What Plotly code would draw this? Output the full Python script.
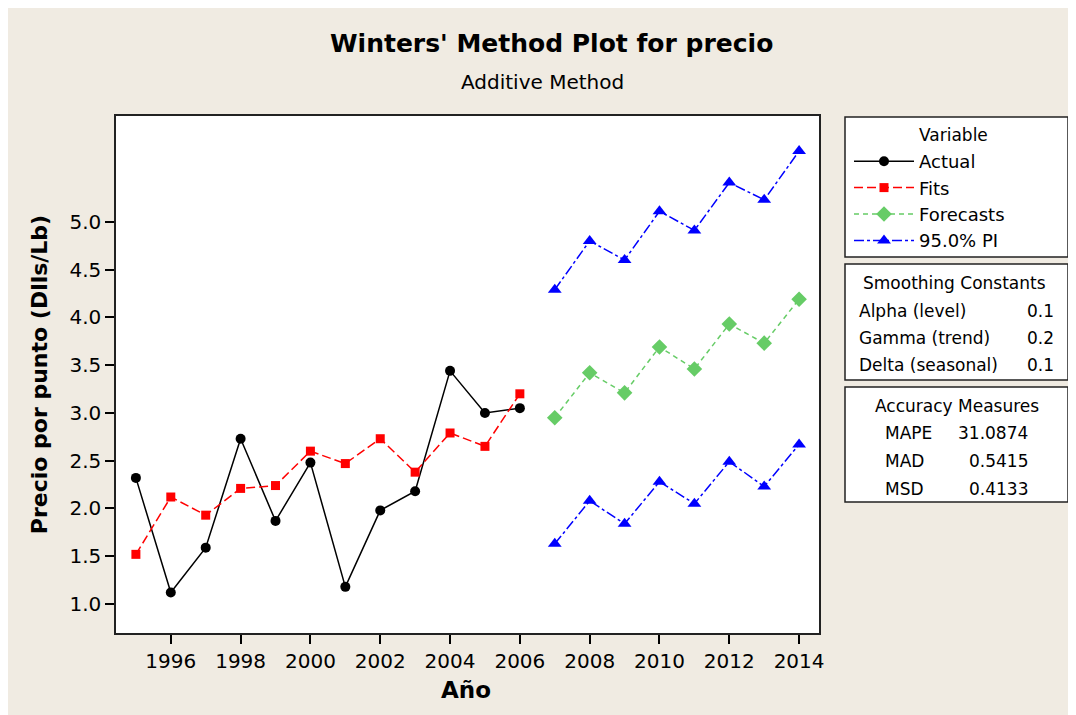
import plotly.graph_objects as go

# ---------------- data ----------------
years_fit = [1995, 1996, 1997, 1998, 1999, 2000, 2001, 2002, 2003, 2004, 2005, 2006]
actual = [2.32, 1.12, 1.59, 2.73, 1.87, 2.48, 1.18, 1.98, 2.18, 3.44, 3.00, 3.05]
fits = [1.52, 2.12, 1.93, 2.21, 2.24, 2.60, 2.47, 2.73, 2.38, 2.79, 2.65, 3.20]

years_fc = [2007, 2008, 2009, 2010, 2011, 2012, 2013, 2014]
forecasts = [2.95, 3.42, 3.21, 3.69, 3.46, 3.93, 3.73, 4.19]
pi_upper = [4.29, 4.80, 4.60, 5.11, 4.91, 5.41, 5.23, 5.74]
pi_lower = [1.63, 2.08, 1.84, 2.28, 2.05, 2.49, 2.23, 2.67]

x_ticks = [1996, 1998, 2000, 2002, 2004, 2006, 2008, 2010, 2012, 2014]
y_ticks = [1.0, 1.5, 2.0, 2.5, 3.0, 3.5, 4.0, 4.5, 5.0]

smoothing_labels = ["Alpha (level)", "Gamma (trend)", "Delta (seasonal)"]
smoothing_values = ["0.1", "0.2", "0.1"]
accuracy_labels = ["MAPE", "MAD", "MSD"]
accuracy_values = ["31.0874", "0.5415", "0.4133"]

# ---------------- layout geometry ----------------
# page body has an 8px margin; coordinates below are in screenshot pixels
OFF = 8
W, H = 1076 - OFF, 715 - OFF
L, R, T, B = 116, 819, 116, 633      # plot frame in screenshot pixels
BG = "#F0EBE2"
FONT = "DejaVu Sans"


def px(x):
    return (x - L) / (R - L)


def py(y):
    return (B - y) / (B - T)


fig = go.Figure()

fig.add_trace(go.Scatter(
    x=years_fit, y=actual, name="Actual", mode="lines+markers",
    line=dict(color="black", width=1.5),
    marker=dict(symbol="circle", size=10, color="black")))
fig.add_trace(go.Scatter(
    x=years_fit, y=fits, name="Fits", mode="lines+markers",
    line=dict(color="#FF0000", width=1.5, dash="9px,4px"),
    marker=dict(symbol="square", size=9, color="#FF0000")))
fig.add_trace(go.Scatter(
    x=years_fc, y=forecasts, name="Forecasts", mode="lines+markers",
    line=dict(color="#66CC66", width=1.5, dash="5px,4px"),
    marker=dict(symbol="diamond", size=12, color="#66CC66")))
fig.add_trace(go.Scatter(
    x=years_fc, y=pi_upper, name="95.0% PI", mode="lines+markers",
    legendgroup="pi",
    line=dict(color="#0000FF", width=1.5, dash="10px,3px,3px,3px"),
    marker=dict(symbol="triangle-up", size=12, color="#0000FF")))
fig.add_trace(go.Scatter(
    x=years_fc, y=pi_lower, name="95.0% PI", mode="lines+markers",
    legendgroup="pi", showlegend=False,
    line=dict(color="#0000FF", width=1.5, dash="10px,3px,3px,3px"),
    marker=dict(symbol="triangle-up", size=12, color="#0000FF")))

shapes = []
for (y0, y1) in [(117, 257), (264, 380), (387, 502)]:
    shapes.append(dict(type="rect", xref="paper", yref="paper", x0=px(845), x1=px(1068),
                       y0=py(y1), y1=py(y0), fillcolor="white",
                       line=dict(color="#222222", width=1.5), layer="below"))

ann = []


def text(x, y, s, size=17, xanchor="left", bold=False):
    ann.append(dict(x=px(x), y=py(y), xref="paper", yref="paper", text=("<b>%s</b>" % s) if bold else s,
                    showarrow=False, xanchor=xanchor, yanchor="middle",
                    font=dict(family=FONT, size=size, color="black")))


text(551, 43, "Winters' Method Plot for precio", size=25, xanchor="center", bold=True)
text(542, 82, "Additive Method", size=20, xanchor="center")
text(466, 690, "Año", size=23, xanchor="center", bold=True)

text(953, 135, "Variable", xanchor="center")
text(955, 283, "Smoothing Constants", xanchor="center")
for i, (lab, val) in enumerate(zip(smoothing_labels, smoothing_values)):
    yy = 311 + i * 27
    text(857, yy, lab)
    text(1056, yy, val, xanchor="right")
text(957, 406, "Accuracy Measures", xanchor="center")
for i, (lab, val) in enumerate(zip(accuracy_labels, accuracy_values)):
    yy = 433 + i * 28
    text(883, yy, lab)
    text(1030, yy, val, xanchor="right")

fig.update_layout(
    width=W, height=H,
    margin=dict(l=L - OFF, r=W - (R - OFF), t=T - OFF, b=H - (B - OFF), pad=0),
    paper_bgcolor=BG, plot_bgcolor="white",
    font=dict(family=FONT, size=17, color="black"),
    shapes=shapes, annotations=ann,
    showlegend=True,
    legend=dict(x=px(849), y=py(143), xanchor="left", yanchor="top",
                bgcolor="rgba(0,0,0,0)", borderwidth=0,
                font=dict(family=FONT, size=18, color="black"),
                itemwidth=60, tracegroupgap=0),
    xaxis=dict(range=[1994.43, 2014.57], tickmode="array", tickvals=x_ticks,
               ticks="outside", ticklen=9, tickwidth=1.5, tickcolor="black",
               showline=True, mirror=True, linecolor="#222222", linewidth=1.5,
               showgrid=False, zeroline=False,
               tickfont=dict(family=FONT, size=20, color="black")),
    yaxis=dict(range=[0.697, 6.107], tickmode="array", tickvals=y_ticks,
               tickformat=".1f",
               ticks="outside", ticklen=9, tickwidth=1.5, tickcolor="black",
               showline=True, mirror=True, linecolor="#222222", linewidth=1.5,
               showgrid=False, zeroline=False,
               title=dict(text="<b>Precio por punto (Dlls/Lb)</b>", standoff=16,
                          font=dict(family=FONT, size=22, color="black")),
               tickfont=dict(family=FONT, size=20, color="black")),
)

fig.write_html("out.html")
